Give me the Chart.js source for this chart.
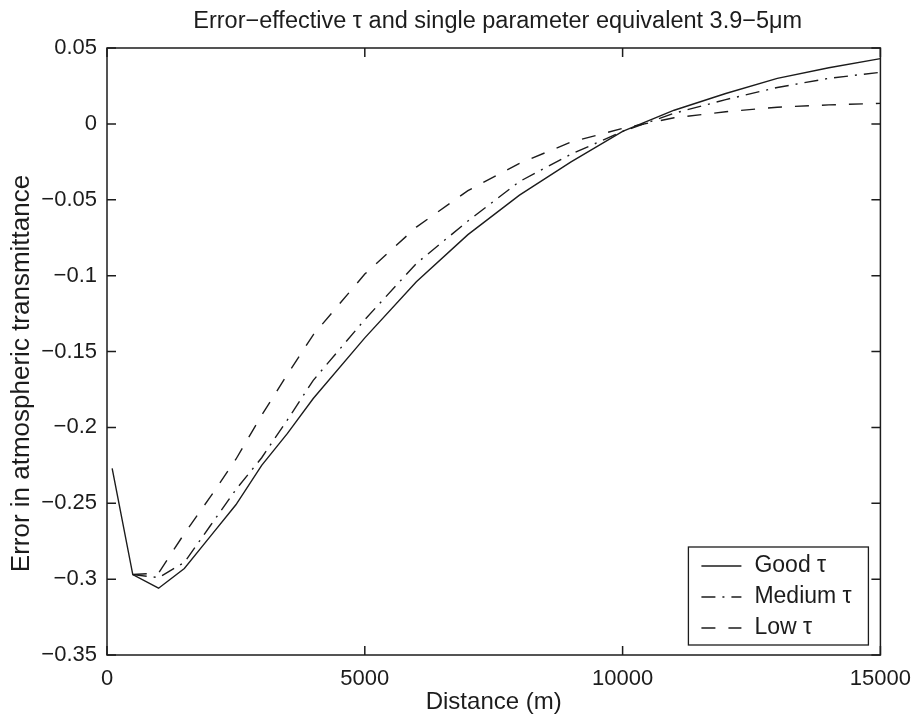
<!DOCTYPE html>
<html>
<head>
<meta charset="utf-8">
<script src="https://cdn.jsdelivr.net/npm/chart.js@4.4.1/dist/chart.umd.min.js"></script>
<style>
  html, body { margin: 0; padding: 0; background: #fff; }
  #wrap { width: 922px; height: 721px; }
</style>
</head>
<body>
<div id="wrap"><canvas id="grafico" width="922" height="721"></canvas></div>
<script>
// distancias (m) e erros
const DIST = [100, 500, 1000, 1500, 2000, 2500, 3000, 3500, 4000, 5000, 6000, 7000, 8000, 9000, 10000, 11000, 12000, 13000, 14000, 15000];
const GOOD = [-0.227, -0.297, -0.306, -0.293, -0.272, -0.251, -0.225, -0.204, -0.181, -0.141, -0.104, -0.073, -0.047, -0.025, -0.005, 0.009, 0.020, 0.030, 0.037, 0.043];
const MEDIUM = [null, -0.297, -0.299, -0.289, -0.265, -0.241, -0.220, -0.195, -0.169, -0.129, -0.092, -0.064, -0.038, -0.020, -0.005, 0.007, 0.016, 0.024, 0.030, 0.034];
const LOW = [null, -0.297, -0.296, -0.270, -0.246, -0.221, -0.192, -0.165, -0.139, -0.099, -0.068, -0.044, -0.026, -0.012, -0.003, 0.004, 0.008, 0.011, 0.0125, 0.0135];
const X_TICKS = [0, 5000, 10000, 15000];
const Y_TICKS = [0.05, 0, -0.05, -0.1, -0.15, -0.2, -0.25, -0.3, -0.35];
const TITULO = 'Error\u2212effective \u03c4 and single parameter equivalent 3.9\u22125\u03bcm';
const ROTULO_Y = 'Error in atmospheric transmittance';

const TINTA = '#1c1c1c';
const FONTE = '"Liberation Sans", Arial, Helvetica, sans-serif';

function pontos(ys) {
  return DIST.map((x, i) => ({ x, y: ys[i] })).filter(p => p.y !== null);
}

function menos(v) {
  const r = Math.round(v * 100) / 100;
  return r === 0 ? '0' : String(r).replace('-', '\u2212');
}

// titulo centrado sobre a area do grafico e rotulo do eixo y
const textos = {
  id: 'textos',
  afterDraw(chart) {
    const { ctx, chartArea: a } = chart;
    ctx.save();
    ctx.fillStyle = TINTA;
    ctx.textAlign = 'center';
    ctx.font = '23.5px ' + FONTE;
    ctx.textBaseline = 'alphabetic';
    ctx.fillText(TITULO, (a.left + a.right) / 2 + 4, 28);
    ctx.translate(22, (a.top + a.bottom) / 2 + 22);
    ctx.rotate(-Math.PI / 2);
    ctx.font = '26px ' + FONTE;
    ctx.textBaseline = 'middle';
    ctx.fillText(ROTULO_Y, 0, 0);
    ctx.restore();
  }
};

// moldura com ticks para dentro nos quatro lados (estilo matlab)
const moldura = {
  id: 'moldura',
  afterDatasetsDraw(chart) {
    const { ctx, chartArea: a, scales } = chart;
    const tl = 9;
    ctx.save();
    ctx.strokeStyle = TINTA;
    ctx.lineWidth = 1.5;
    ctx.strokeRect(a.left, a.top, a.right - a.left, a.bottom - a.top);
    ctx.beginPath();
    X_TICKS.forEach(v => {
      const px = scales.x.getPixelForValue(v);
      ctx.moveTo(px, a.bottom); ctx.lineTo(px, a.bottom - tl);
      ctx.moveTo(px, a.top); ctx.lineTo(px, a.top + tl);
    });
    Y_TICKS.forEach(v => {
      const py = scales.y.getPixelForValue(v);
      ctx.moveTo(a.left, py); ctx.lineTo(a.left + tl, py);
      ctx.moveTo(a.right, py); ctx.lineTo(a.right - tl, py);
    });
    ctx.stroke();
    ctx.restore();
  }
};

// legenda dentro da area, canto inferior direito
const legendaBox = {
  id: 'legendaBox',
  afterDraw(chart) {
    const { ctx, chartArea: a } = chart;
    const w = 180, h = 98;
    const x0 = a.right - 12 - w, y0 = a.bottom - 10 - h;
    ctx.save();
    ctx.fillStyle = '#fff';
    ctx.fillRect(x0, y0, w, h);
    ctx.strokeStyle = TINTA;
    ctx.lineWidth = 1.3;
    ctx.strokeRect(x0, y0, w, h);
    ctx.font = '23px ' + FONTE;
    ctx.textBaseline = 'middle';
    ctx.fillStyle = TINTA;
    chart.data.datasets.forEach((ds, i) => {
      const y = y0 + 19 + i * 31;
      ctx.beginPath();
      ctx.setLineDash(ds.borderDash || []);
      ctx.lineWidth = ds.borderWidth;
      ctx.moveTo(x0 + 13, y);
      ctx.lineTo(x0 + 53, y);
      ctx.stroke();
      ctx.setLineDash([]);
      ctx.fillText(ds.label, x0 + 66, y);
    });
    ctx.restore();
  }
};

new Chart(document.getElementById('grafico'), {
  type: 'line',
  data: {
    datasets: [
      { label: 'Good \u03c4', data: pontos(GOOD), borderColor: TINTA, borderWidth: 1.4, borderDash: [] },
      { label: 'Medium \u03c4', data: pontos(MEDIUM), borderColor: TINTA, borderWidth: 1.4, borderDash: [14, 7, 2, 7] },
      { label: 'Low \u03c4', data: pontos(LOW), borderColor: TINTA, borderWidth: 1.4, borderDash: [14, 13] }
    ]
  },
  options: {
    responsive: false,
    animation: false,
    devicePixelRatio: 1,
    layout: { padding: { left: 0, right: 38, top: 48, bottom: 0 } },
    elements: { point: { radius: 0 }, line: { tension: 0 } },
    plugins: {
      legend: { display: false },
      tooltip: { enabled: false },
      title: { display: false }
    },
    scales: {
      x: {
        type: 'linear', min: 0, max: 15000,
        afterFit: s => { s.height = 66; },
        afterBuildTicks: s => { s.ticks = X_TICKS.map(value => ({ value })); },
        grid: { display: false, drawTicks: false },
        border: { display: false },
        ticks: { color: TINTA, padding: 11, maxRotation: 0, font: { family: FONTE, size: 22 }, callback: v => String(v) },
        title: { display: true, text: 'Distance (m)', color: TINTA, padding: { top: 0, bottom: 4 }, font: { family: FONTE, size: 24 } }
      },
      y: {
        type: 'linear', min: -0.35, max: 0.05,
        afterFit: s => { s.width = 107; },
        afterBuildTicks: s => { s.ticks = Y_TICKS.map(value => ({ value })); },
        grid: { display: false, drawTicks: false },
        border: { display: false },
        ticks: { color: TINTA, padding: 10, font: { family: FONTE, size: 22 }, callback: v => menos(v) },
        title: { display: false }
      }
    }
  },
  plugins: [textos, moldura, legendaBox]
});
</script>
</body>
</html>
